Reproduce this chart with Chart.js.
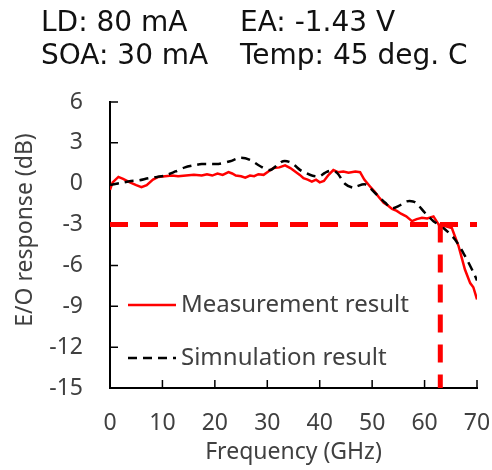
<!DOCTYPE html>
<html>
<head>
<meta charset="utf-8">
<script src="https://cdn.jsdelivr.net/npm/chart.js@4.4.1/dist/chart.umd.min.js"></script>
<style>
  body { margin: 0; background: #fff; }
  #wrap { position: relative; width: 492px; height: 470px; }
  .cond { position: absolute; font-family: "DejaVu Sans", sans-serif; font-size: 28px; line-height: 28px; color: #111; white-space: nowrap; }
  canvas { position: absolute; left: 0; top: 0; }
</style>
</head>
<body>
<div id="wrap">
  <canvas id="grafico" width="492" height="470"></canvas>
  <div class="cond" style="left:41px; top:8px">LD: 80 mA</div>
  <div class="cond" style="left:240px; top:8px">EA: -1.43 V</div>
  <div class="cond" style="left:41px; top:41px">SOA: 30 mA</div>
  <div class="cond" style="left:240px; top:41px">Temp: 45 deg. C</div>
</div>
<script>
// dados
const measFreq = [0, 0.5, 1.6, 2.5, 3.8, 5, 6, 7, 8.2, 9.2, 10.5, 11.8, 13, 14.5, 16, 17.5, 18.5, 19.5, 20.5, 21.5,
  22.6, 23.3, 24, 25, 25.8, 26.7, 27.5, 28.3, 29.3, 30.2, 31.2, 32.3, 33.4, 34.4, 35.3, 36.2, 36.9, 37.7, 38.5, 39.3,
  40, 40.8, 41.7, 42.6, 43.5, 44.5, 45.5, 46.8, 47.7, 48.5, 49.6, 50.5, 51.3, 52.2, 53, 53.8, 54.7, 55.5, 56.5, 57.6,
  58.5, 59.5, 60.5, 61.7, 62.7, 63.9, 65.2, 66.5, 67.7, 68.7, 69.3, 70];
const measDb = [-0.45, 0.1, 0.5, 0.35, 0.1, -0.1, -0.25, -0.1, 0.3, 0.5, 0.55, 0.6, 0.55, 0.6, 0.65, 0.6, 0.7, 0.6, 0.75, 0.65,
  0.85, 0.75, 0.6, 0.55, 0.45, 0.6, 0.55, 0.7, 0.65, 0.9, 1.15, 1.2, 1.35, 1.15, 0.9, 0.65, 0.4, 0.3, 0.15, 0.3,
  0.1, 0.2, 0.65, 1.0, 0.85, 0.9, 0.8, 0.9, 0.85, 0.3, -0.2, -0.6, -1.0, -1.4, -1.6, -1.85, -2.0, -2.2, -2.4, -2.75,
  -2.6, -2.5, -2.55, -2.4, -3.0, -3.1, -3.25, -4.6, -6.3, -7.3, -7.6, -8.5];

const simFreq = [0, 2, 4, 5.5, 7.3, 9, 10.5, 12.5, 14.3, 16, 17.5, 19, 20.7, 22.9, 24.8, 26.7, 28.6, 30.5, 32, 33,
  34.2, 35.2, 36.3, 37.3, 38.5, 40, 41, 42, 43.3, 44.8, 46.4, 47, 48.7, 50.6, 52.5, 53.8, 55, 56.6, 57.8, 58.5,
  60.1, 61.7, 63.6, 65.8, 67.7, 69.3, 70];
const simDb = [-0.1, 0.05, 0.2, 0.25, 0.4, 0.5, 0.6, 0.9, 1.2, 1.35, 1.45, 1.45, 1.45, 1.65, 1.9, 1.75, 1.3, 1.0, 1.4, 1.65,
  1.6, 1.35, 1.0, 0.8, 0.6, 0.55, 0.8, 0.95, 0.8, 0, -0.3, -0.2, -0.05, -0.7, -1.4, -1.8, -1.65, -1.3, -1.3, -1.45,
  -2.15, -2.75, -3.25, -4.1, -5.3, -6.5, -7.1];

const cutoffDb = -3;
const cutoffFreq = 63;
const xTicks = [0, 10, 20, 30, 40, 50, 60, 70];
const yTicks = [-15, -12, -9, -6, -3, 0, 3, 6];
const legendLabels = ['Measurement result', 'Simnulation result'];

const FONT = '"Noto Sans", sans-serif';
const GRAY = '#404040';
const pares = (xs, ys) => xs.map((v, i) => ({ x: v, y: ys[i] }));

const extras = {
  id: 'extras',
  beforeDatasetsDraw(chart) {
    const { ctx, chartArea: a, scales: { x, y } } = chart;
    ctx.save();
    ctx.strokeStyle = '#000';
    ctx.lineWidth = 1.5;
    ctx.beginPath();
    yTicks.forEach(v => { const py = y.getPixelForValue(v); ctx.moveTo(a.left, py); ctx.lineTo(a.left + 8, py); });
    xTicks.forEach(v => { const px = x.getPixelForValue(v); ctx.moveTo(px, a.bottom); ctx.lineTo(px, a.bottom - 8); });
    ctx.stroke();
    ctx.restore();
  },
  afterDraw(chart) {
    const ctx = chart.ctx;
    ctx.save();
    // legenda dentro do gráfico
    const linhas = [305, 358];
    linhas.forEach((ly, i) => {
      const ds = chart.data.datasets[i];
      ctx.strokeStyle = ds.borderColor;
      ctx.lineWidth = ds.borderWidth;
      ctx.setLineDash(ds.borderDash || []);
      ctx.beginPath(); ctx.moveTo(128, ly); ctx.lineTo(176, ly); ctx.stroke();
      ctx.setLineDash([]);
      ctx.fillStyle = GRAY;
      ctx.font = '24px ' + FONT;
      ctx.textBaseline = 'middle';
      ctx.fillText(legendLabels[i], 181, ly);
    });
    // titulo eixo Y
    ctx.translate(25, 230);
    ctx.rotate(-Math.PI / 2);
    ctx.textAlign = 'center';
    ctx.textBaseline = 'middle';
    ctx.font = '23px ' + FONT;
    ctx.fillText('E/O response (dB)', 0, 0);
    ctx.restore();
  }
};

new Chart(document.getElementById('grafico'), {
  type: 'line',
  data: {
    datasets: [
      { label: legendLabels[0], data: pares(measFreq, measDb), borderColor: '#ff0000', borderWidth: 2.5, pointRadius: 0, tension: 0, order: 2 },
      { label: legendLabels[1], data: pares(simFreq, simDb), borderColor: '#000', borderWidth: 2.5, borderDash: [9, 6], pointRadius: 0, tension: 0.3, order: 1 },
      { label: 'cutoff', data: pares([0, 70], [cutoffDb, cutoffDb]), borderColor: '#ff0000', borderWidth: 5, borderDash: [18, 12], pointRadius: 0, order: 0 },
      { label: 'f3dB', data: pares([cutoffFreq, cutoffFreq], [cutoffDb, -15]), borderColor: '#ff0000', borderWidth: 5, borderDash: [18, 12], pointRadius: 0, order: 0 }
    ]
  },
  options: {
    responsive: false,
    animation: false,
    devicePixelRatio: 1,
    layout: { padding: { top: 102, right: 15, left: 0, bottom: 0 } },
    plugins: { legend: { display: false }, tooltip: { enabled: false } },
    scales: {
      x: {
        type: 'linear', min: 0, max: 70,
        afterFit: s => { s.height = 82; s.paddingLeft = 0; s.paddingRight = 0; },
        afterBuildTicks: s => { s.ticks = xTicks.map(v => ({ value: v })); },
        grid: { display: true, drawOnChartArea: false, drawTicks: false },
        border: { display: true, color: '#000', width: 2 },
        ticks: { color: GRAY, font: { family: FONT, size: 23 }, padding: 22, maxRotation: 0 },
        title: { display: true, text: 'Frequency (GHz)', color: GRAY, font: { family: FONT, size: 23 }, padding: { top: 9 } }
      },
      y: {
        type: 'linear', min: -15, max: 6,
        afterFit: s => { s.width = 110; },
        afterBuildTicks: s => { s.ticks = yTicks.map(v => ({ value: v })); },
        grid: { display: true, drawOnChartArea: false, drawTicks: false },
        border: { display: true, color: '#000', width: 2 },
        ticks: { color: GRAY, font: { family: FONT, size: 23 }, padding: 27 }
      }
    }
  },
  plugins: [extras]
});
</script>
</body>
</html>
